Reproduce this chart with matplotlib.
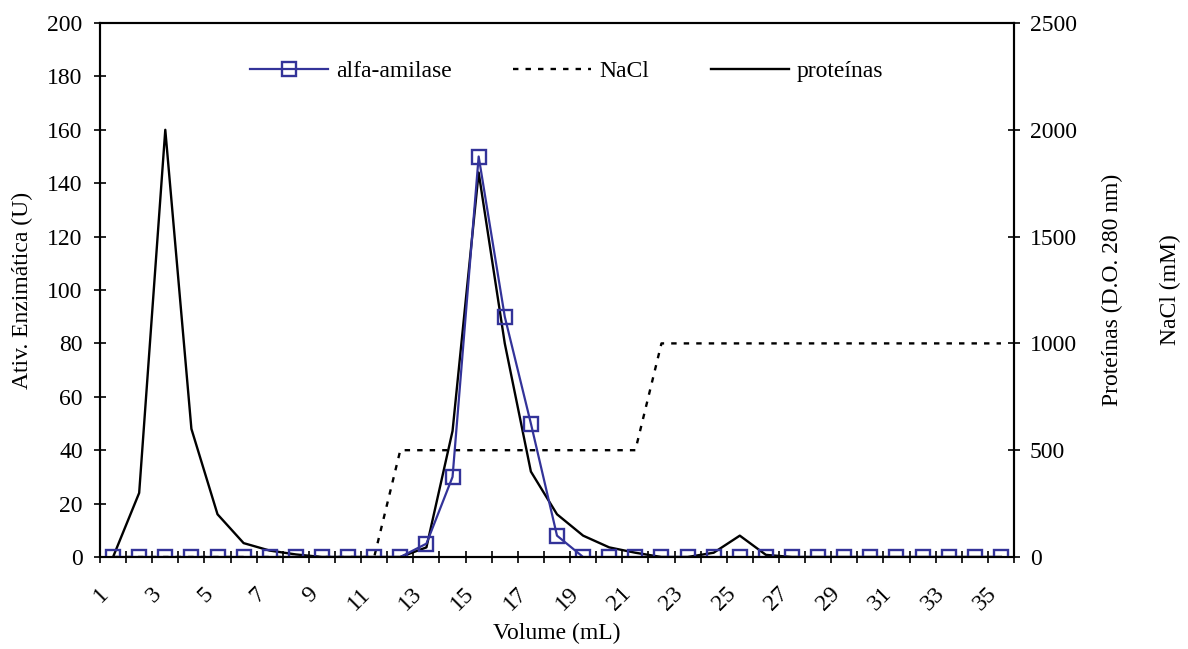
import matplotlib.pyplot as plt
from matplotlib.ticker import FixedLocator, MultipleLocator
from matplotlib.transforms import ScaledTranslation

plt.rcParams["font.family"] = ["Liberation Serif", "DejaVu Serif"]
plt.rcParams["font.size"] = 17

# Dados (frações de 1 mL)
volume = list(range(1, 36))
amilase = [0] * 12 + [5, 30, 150, 90, 50, 8] + [0] * 17
proteinas = [0, 300, 2000, 600, 200, 65, 30, 12, 0, 0, 0, 0, 45, 590, 1800,
             1000, 400, 200, 100, 45, 20, 0, 0, 20, 100, 10] + [0] * 9
nacl = [0] * 11 + [500] * 10 + [1000] * 14
xlabels = [str(v) for v in volume[::2]]

W, H = 1188, 649
fig = plt.figure(figsize=(W / 100, H / 100), dpi=100)
ax = fig.add_axes([100 / W, 1 - 557 / H, 914 / W, 534 / H])
ax2 = ax.twinx()

# proteínas e NaCl no eixo secundário
l_prot, = ax2.plot(volume, proteinas, color="black", lw=1.7)
l_nacl, = ax2.plot(volume, nacl, color="black", lw=1.7, linestyle=(0, (2.3, 3.0)))

# alfa-amilase por cima
ax.set_zorder(ax2.get_zorder() + 1)
ax.patch.set_visible(False)
l_ami, = ax.plot(volume, amilase, color="#333399", lw=1.6, marker="s",
                 markersize=10.5, markerfacecolor="none",
                 markeredgecolor="#333399", markeredgewidth=1.7)

ax.set_xlim(0.5, len(volume) + 0.5)
ax.set_ylim(0, 200)
ax2.set_ylim(0, 2500)
ax.yaxis.set_major_locator(MultipleLocator(20))
ax2.yaxis.set_major_locator(MultipleLocator(500))

ax.xaxis.set_major_locator(FixedLocator(volume[::2]))
ax.set_xticklabels(xlabels, rotation=45, ha="right")
shift = ScaledTranslation(-7 / 100, 0, fig.dpi_scale_trans)
for lab in ax.get_xticklabels():
    lab.set_transform(lab.get_transform() + shift)
ax.xaxis.set_minor_locator(FixedLocator([v + 0.5 for v in [0] + volume]))
ax.tick_params(axis="x", which="major", length=0, pad=19)
ax.tick_params(axis="x", which="minor", direction="inout", length=9, width=1.2)
ax.tick_params(axis="y", direction="inout", length=9, width=1.2, pad=8)
ax2.tick_params(axis="y", direction="inout", length=9, width=1.2, pad=7)

for a in (ax, ax2):
    for s in a.spines.values():
        s.set_linewidth(1.5)

ax.set_xlabel("Volume (mL)", labelpad=6)
ax.set_ylabel("Ativ. Enzimática (U)", labelpad=10)
ax2.set_ylabel("Proteínas (D.O. 280 nm)", labelpad=18)
fig.text(1170 / W, 1 - 290 / H, "NaCl (mM)", rotation=90, ha="center", va="center")

ax.legend([l_ami, l_nacl, l_prot], ["alfa-amilase", "NaCl", "proteínas"],
          ncol=3, frameon=False, loc="center left",
          bbox_to_anchor=(250 / W, 1 - 71 / H), bbox_transform=fig.transFigure,
          borderpad=0, borderaxespad=0, handlelength=3.3, handletextpad=0.35,
          columnspacing=2.6)

fig.savefig("out.png", dpi=100)
